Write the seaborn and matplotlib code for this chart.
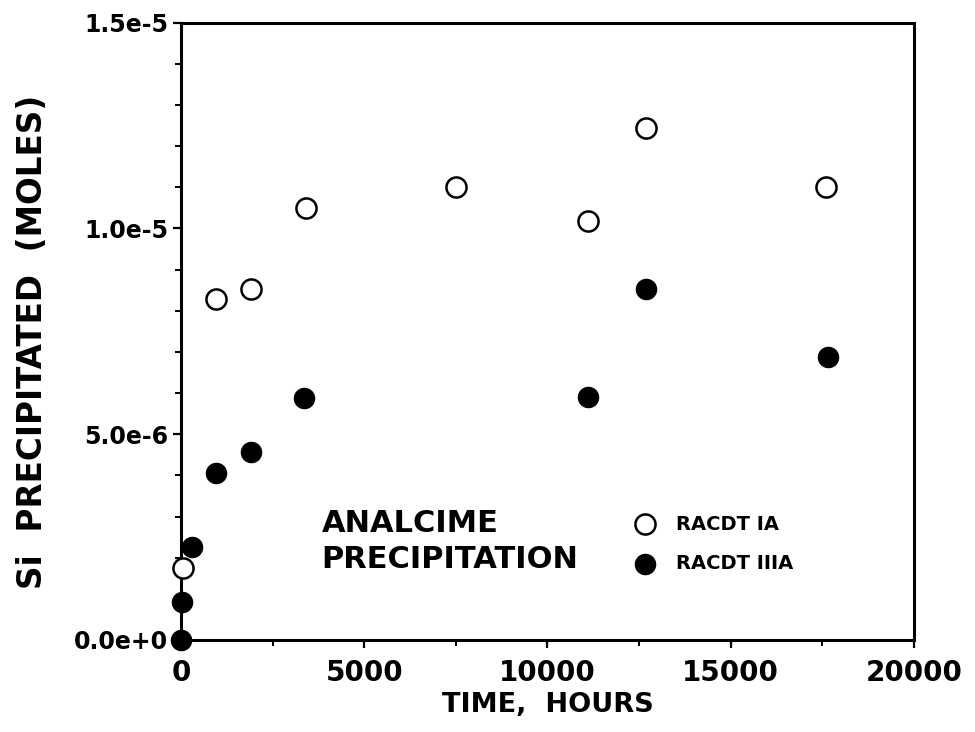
import matplotlib
matplotlib.use("Agg")
import matplotlib.pyplot as plt
from matplotlib.ticker import FixedLocator, MultipleLocator, FixedFormatter
import pandas as pd
import seaborn as sns

# Run 1: RACDT IA (open circles)
hours_ia = [48, 950, 1900, 3400, 7500, 11100, 12700, 17600]
si_ia = [1.75e-6, 8.28e-6, 8.52e-6, 10.49e-6, 11.0e-6, 10.17e-6, 12.43e-6, 11.0e-6]

# Run 2: RACDT IIIA (filled circles)
hours_iiia = [0, 24, 300, 950, 1900, 3350, 11100, 12700, 17650]
si_iiia = [0.0, 0.92e-6, 2.26e-6, 4.05e-6, 4.56e-6, 5.87e-6, 5.90e-6, 8.54e-6, 6.87e-6]

series_names = ["RACDT IA", "RACDT IIIA"]
x_ticks = [0, 5000, 10000, 15000, 20000]
x_tick_labels = ["0", "5000", "10000", "15000", "20000"]
y_ticks = [0.0, 5e-6, 1e-5, 1.5e-5]
y_tick_labels = ["0.0e+0", "5.0e-6", "1.0e-5", "1.5e-5"]

df_ia = pd.DataFrame({"hours": hours_ia, "si": si_ia})
df_iiia = pd.DataFrame({"hours": hours_iiia, "si": si_iiia})

sns.set_style("white", rc={"text.color": "black", "axes.labelcolor": "black",
                           "xtick.color": "black", "ytick.color": "black",
                           "axes.edgecolor": "black"})
plt.rcParams["font.family"] = ["DejaVu Sans"]
plt.rcParams["font.weight"] = "bold"

fig = plt.figure(figsize=(9.75, 7.32), dpi=100)
ax = fig.add_axes([0.1856, 0.1257, 0.7518, 0.8433])

marker_size = 210
sns.scatterplot(data=df_ia, x="hours", y="si", ax=ax, marker="o", s=marker_size,
                facecolor="white", edgecolor="black", linewidth=1.8,
                label=series_names[0], clip_on=False, zorder=4)
sns.scatterplot(data=df_iiia, x="hours", y="si", ax=ax, marker="o", s=marker_size,
                color="black", edgecolor="black", linewidth=1.0,
                label=series_names[1], clip_on=False, zorder=4)

ax.set_xlim(0, 20000)
ax.set_ylim(0, 1.5e-5)

ax.xaxis.set_major_locator(FixedLocator(x_ticks))
ax.xaxis.set_major_formatter(FixedFormatter(x_tick_labels))
ax.xaxis.set_minor_locator(MultipleLocator(2500))
ax.yaxis.set_major_locator(FixedLocator(y_ticks))
ax.yaxis.set_major_formatter(FixedFormatter(y_tick_labels))
ax.yaxis.set_minor_locator(MultipleLocator(1e-6))

for side in ["left", "right", "top", "bottom"]:
    ax.spines[side].set_visible(True)
    ax.spines[side].set_linewidth(2.2)
    ax.spines[side].set_color("black")

ax.tick_params(axis="both", which="major", direction="out", length=6, width=1.6,
               color="black", bottom=True, left=True, top=False, right=False)
ax.tick_params(axis="both", which="minor", direction="out", length=4, width=1.4,
               color="black", bottom=True, left=True, top=False, right=False)
ax.tick_params(axis="x", which="major", labelsize=20, pad=8)
ax.tick_params(axis="y", which="major", labelsize=17, pad=3)
for lbl in ax.get_xticklabels() + ax.get_yticklabels():
    lbl.set_fontweight("bold")

ax.set_xlabel("TIME,  HOURS", fontsize=19.5, fontweight="bold", labelpad=3)
ax.set_ylabel("Si  PRECIPITATED  (MOLES)", fontsize=23.5, fontweight="bold")
ax.yaxis.set_label_coords(-0.18, 0.483)

ax.text(0.192, 0.212, "ANALCIME\nPRECIPITATION", transform=ax.transAxes,
        ha="left", va="top", fontsize=22, fontweight="bold", linespacing=1.3)

handles, labels = ax.get_legend_handles_labels()
ax.legend(handles, labels, loc="upper left", bbox_to_anchor=(0.652, 0.297),
          bbox_transform=fig.transFigure, frameon=False,
          prop={"weight": "bold", "size": 14}, handlelength=1.0,
          handletextpad=1.05, labelspacing=1.05, borderpad=0, borderaxespad=0,
          markerscale=1.0)

fig.savefig("out.png", dpi=100)
